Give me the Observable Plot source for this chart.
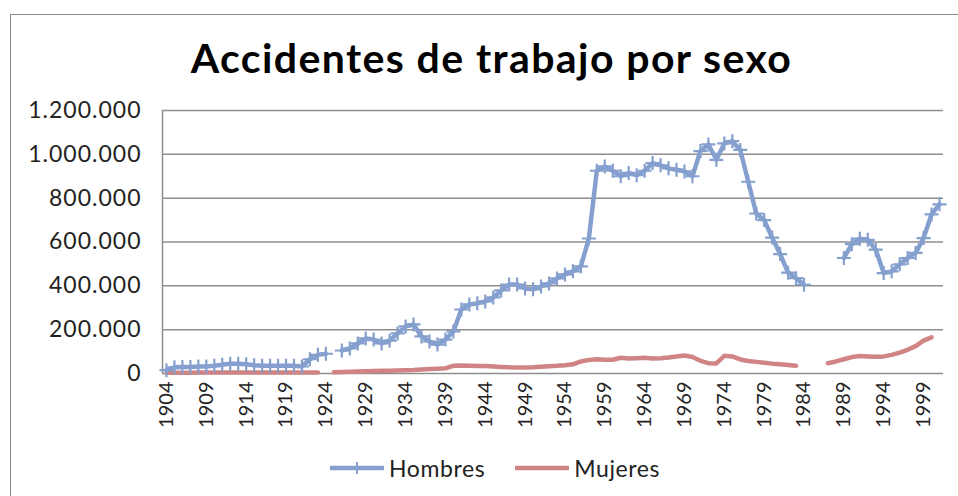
<!DOCTYPE html>
<html>
<head>
<meta charset="utf-8">
<script src="https://cdn.jsdelivr.net/npm/d3@7"></script>
<script src="https://cdn.jsdelivr.net/npm/@observablehq/plot@0.6"></script>
<style>
  body { margin: 0; background: #fff; }
  #wrap { position: relative; width: 958px; height: 496px; overflow: hidden; background: #fff; font-family: Lato, "Open Sans", sans-serif; }
  #frame { position: absolute; left: 10px; top: 14px; width: 1200px; height: 800px; border-left: 1px solid #8a8a8a; border-top: 1px solid #8a8a8a; }
  #title { position: absolute; left: 0; width: 983px; top: 33px; text-align: center; font-size: 41px; letter-spacing: 1.4px; font-weight: 700; color: #000; white-space: nowrap; }
  #chart { position: absolute; left: 0; top: 80px; }
  #chart svg g[aria-label="y-axis tick label"] text { letter-spacing: 1px; }
  #legend { position: absolute; top: 454px; left: 330px; display: flex; align-items: center; font-size: 23px; letter-spacing: 0.6px; color: #222; white-space: nowrap; }
  #legend span { margin-left: 5px; }
</style>
</head>
<body>
<div id="wrap">
  <div id="frame"></div>
  <div id="title">Accidentes de trabajo por sexo</div>
  <div id="chart"></div>
  <div id="legend"></div>
</div>
<script>
// ---- data ----
const firstYear = 1904;
const lastYear = 2001;
const hombres = [
  15000, 28000, 30000, 30000, 32000, 32000, 35000, 40000, 45000, 45000,   // 1904-1913
  42000, 38000, 35000, 35000, 35000, 35000, 35000, 32000, 65000, 85000,   // 1914-1923
  90000, null, 105000, 114000, 137000, 160000, 155000, 137000, 150000, 183000, // 1924-1933
  215000, 224000, 169000, 146000, 132000, 155000, 192000, 292000, 315000, 320000, // 1934-1943
  329000, 347000, 379000, 406000, 406000, 388000, 384000, 397000, 411000, 434000, // 1944-1953
  452000, 466000, 489000, 616000, 925000, 945000, 925000, 900000, 915000, 905000, // 1954-1963
  925000, 960000, 950000, 936000, 930000, 922000, 900000, 1015000, 1045000, 975000, // 1964-1973
  1050000, 1060000, 1020000, 875000, 730000, 700000, 620000, 545000, 460000, 435000, // 1974-1983
  405000, null, null, null, null, 527000, 590000, 615000, 610000, 565000, // 1984-1993
  458000, 466000, 498000, 527000, 550000, 618000, 726000, 772000          // 1994-2001
];
const mujeres = [
  3000, 3000, 3000, 3000, 4000, 4000, 4000, 4000, 5000, 5000,            // 1904-1913
  5000, 5000, 5000, 5000, 5000, 5000, 5000, 5000, 5000, 5000,            // 1914-1923
  null, 6000, 7000, 8000, 9000, 10000, 11000, 12000, 13000, 14000,       // 1924-1933
  15000, 16000, 18000, 20000, 22000, 24000, 35000, 36000, 35000, 34000,  // 1934-1943
  34000, 32000, 30000, 28000, 27000, 27000, 28000, 31000, 33000, 35000,  // 1944-1953
  38000, 42000, 55000, 62000, 65000, 63000, 63000, 72000, 68000, 70000,  // 1954-1963
  72000, 68000, 70000, 73000, 78000, 82000, 75000, 58000, 47000, 46000,  // 1964-1973
  81000, 78000, 64000, 57000, 53000, 49000, 45000, 42000, 39000, 35000,  // 1974-1983
  null, null, null, 47000, 55000, 65000, 75000, 80000, 78000, 76000,     // 1984-1993
  78000, 85000, 95000, 108000, 125000, 150000, 165000, null              // 1994-2001
];
const xTickLabels = [1904, 1909, 1914, 1919, 1924, 1929, 1934, 1939, 1944, 1949,
                     1954, 1959, 1964, 1969, 1974, 1979, 1984, 1989, 1994, 1999];
const yTickValues = [0, 200000, 400000, 600000, 800000, 1000000, 1200000];
const seriesNames = ["Hombres", "Mujeres"];
const seriesColors = ["#85a0cf", "#d08584"];

// ---- build ----
const years = d3.range(firstYear, lastYear + 1);
const rows = years.map((y, i) => ({year: y, h: hombres[i], m: mujeres[i]}));
const locale = d3.formatLocale({decimal: ",", thousands: ".", grouping: [3], currency: ["", ""]});
const fmt = locale.format(",");

const cross = {
  draw(ctx, size) {
    const r = Math.sqrt(size / Math.PI);
    ctx.moveTo(-r, 0); ctx.lineTo(r, 0);
    ctx.moveTo(0, -r); ctx.lineTo(0, r);
  }
};

const gridColor = "#8e8e8e";
const chart = Plot.plot({
  width: 958,
  height: 355,
  marginLeft: 162,
  marginRight: 15,
  marginTop: 30,
  marginBottom: 62,
  style: {fontFamily: "Lato, 'Open Sans', sans-serif", color: "#222", background: "transparent", overflow: "visible"},
  x: {domain: [firstYear - 0.5, lastYear + 0.5]},
  y: {domain: [0, 1200000]},
  marks: [
    Plot.gridY(yTickValues, {stroke: gridColor, strokeOpacity: 1, strokeWidth: 1.5}),
    Plot.ruleX([firstYear - 0.5], {stroke: gridColor, strokeWidth: 1.5}),
    Plot.axisY(yTickValues, {tickSize: 0, tickPadding: 21, tickFormat: fmt, fontSize: 23, fill: "#222", label: null}),
    Plot.axisX(xTickLabels, {tickSize: 0, tickPadding: 8, tickRotate: -90, tickFormat: d => String(d), fontSize: 20, fill: "#222", label: null}),
    Plot.line(rows, {x: "year", y: "m", stroke: seriesColors[1], strokeWidth: 4.5}),
    Plot.line(rows, {x: "year", y: "h", stroke: seriesColors[0], strokeWidth: 4.5}),
    Plot.dot(rows, {x: "year", y: "h", symbol: cross, r: 7, stroke: seriesColors[0], strokeWidth: 2.2, fill: "none"})
  ]
});
document.getElementById("chart").appendChild(chart);

// ---- legend ----
const legend = d3.select("#legend");
seriesNames.forEach((name, i) => {
  const sw = legend.append("svg").attr("width", 54).attr("height", 20)
    .style("margin-left", i === 0 ? "0px" : "30px");
  sw.append("line").attr("x1", 1).attr("x2", 53).attr("y1", 10).attr("y2", 10)
    .attr("stroke", seriesColors[i]).attr("stroke-width", 4.5).attr("stroke-linecap", "round");
  if (i === 0) {
    sw.append("line").attr("x1", 27).attr("x2", 27).attr("y1", 4).attr("y2", 16)
      .attr("stroke", seriesColors[i]).attr("stroke-width", 2);
  }
  legend.append("span").text(name);
});
</script>
</body>
</html>
